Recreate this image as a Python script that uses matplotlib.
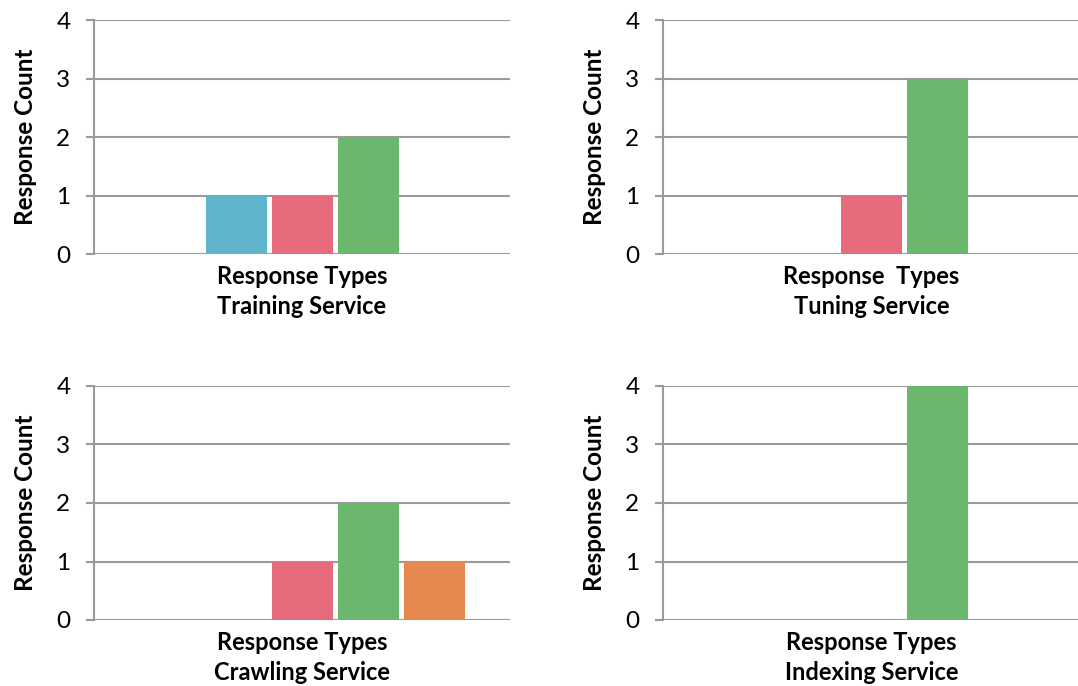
import numpy as np
import matplotlib.pyplot as plt

plt.rcParams['font.family'] = ['Lato', 'DejaVu Sans']

# response counts per service, one value per response type (5 types)
response_types = ['Type 1', 'Type 2', 'Type 3', 'Type 4', 'Type 5']
training = [0, 1, 1, 2, 0]
tuning = [0, 0, 1, 3, 0]
crawling = [0, 0, 1, 2, 1]
indexing = [0, 0, 0, 4, 0]
services = ['Training Service', 'Tuning Service', 'Crawling Service', 'Indexing Service']
xlabels = ['Response Types', 'Response  Types', 'Response Types', 'Response Types']
colors = ['#8064A2', '#60B4CC', '#E56B7D', '#6BB76D', '#E88851']

W, H = 1078, 686
fig = plt.figure(figsize=(W / 100, H / 100), dpi=100)

# axes boxes in pixels: left, right, top, bottom
boxes = [(94, 510, 20, 254), (663, 1080, 20, 254),
         (94, 510, 386, 620), (663, 1080, 386, 620)]
grid_col = '#9a9a9a'

for vals, svc, xl, (x0, x1, y0, y1) in zip([training, tuning, crawling, indexing],
                                            services, xlabels, boxes):
    ax = fig.add_axes([x0 / W, 1 - y1 / H, (x1 - x0) / W, (y1 - y0) / H])
    pw = x1 - x0
    bw = 61 / pw
    step = 66 / pw
    offs = (np.arange(len(vals)) - 2) * step
    ax.bar(offs, vals, width=bw, color=colors, linewidth=0, zorder=3)
    ax.set_xlim(-0.5, 0.5)
    ax.set_ylim(0, 4)
    ax.set_yticks([0, 1, 2, 3, 4])
    ax.set_xticks([])
    ax.grid(axis='y', color=grid_col, linewidth=1.5, zorder=1)
    for s in ['top', 'right']:
        ax.spines[s].set_visible(False)
    ax.spines['bottom'].set_visible(False)
    ax.spines['left'].set_color(grid_col)
    ax.spines['left'].set_linewidth(1.5)
    ax.tick_params(axis='y', length=6, width=1.5, color=grid_col,
                   labelsize=17.5, pad=11, labelcolor='black')
    ax.set_xlabel(xl + '\n' + svc, fontsize=17, fontweight='bold',
                  linespacing=1.35, labelpad=8)
    ax.set_ylabel('Response Count', fontsize=17.5, fontweight='bold', labelpad=14)
    ax.set_facecolor('white')

fig.savefig('out.png', dpi=100, facecolor='white')
